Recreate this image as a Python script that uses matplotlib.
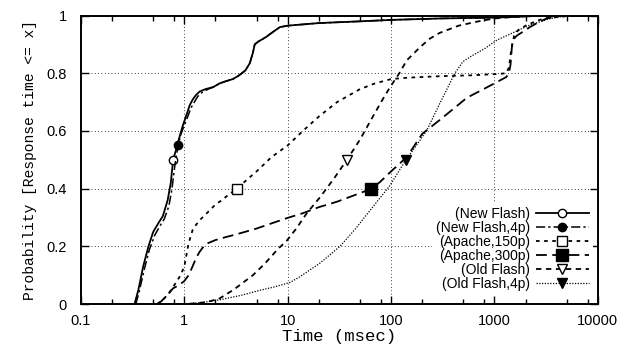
import matplotlib
matplotlib.use("Agg")
import matplotlib.pyplot as plt
import numpy as np

# series (x in msec, y = cumulative probability)
nf_x = [0.33, 0.36, 0.4, 0.45, 0.5, 0.56, 0.62, 0.69, 0.74, 0.78, 0.84, 0.9, 0.97, 1.06, 1.13,
        1.21, 1.3, 1.41, 1.6, 1.9, 2.2, 2.5, 2.95, 3.3, 3.6, 3.9, 4.3, 4.6, 4.8, 5.2, 6.2, 7.0,
        8.4, 10, 20, 50, 100, 300, 1000, 2000, 3000, 10000]
nf_y = [0, 0.05, 0.13, 0.2, 0.25, 0.28, 0.305, 0.36, 0.42, 0.5, 0.54, 0.58, 0.62, 0.66, 0.69,
        0.71, 0.725, 0.737, 0.745, 0.752, 0.765, 0.772, 0.78, 0.79, 0.80, 0.81, 0.835, 0.87,
        0.9, 0.91, 0.926, 0.94, 0.96, 0.965, 0.974, 0.98, 0.985, 0.99, 0.993, 0.997, 1.0, 1.0]

nf4_x = [0.34, 0.37, 0.41, 0.46, 0.52, 0.58, 0.64, 0.71, 0.76, 0.81, 0.87, 0.93, 1.0, 1.08,
         1.16, 1.25, 1.35, 1.5, 1.7, 1.9, 2.2, 2.5, 2.95, 3.3, 3.6, 3.9, 4.3, 4.6, 4.8, 5.2,
         6.2, 7.0, 8.4, 10, 20, 50, 100, 300, 1000, 2000, 3000, 10000]
nf4_y = [0, 0.05, 0.12, 0.19, 0.24, 0.27, 0.295, 0.34, 0.4, 0.48, 0.55, 0.59, 0.62, 0.65,
         0.68, 0.70, 0.72, 0.735, 0.745, 0.752, 0.765, 0.772, 0.78, 0.79, 0.80, 0.81, 0.835,
         0.87, 0.9, 0.91, 0.926, 0.94, 0.96, 0.965, 0.974, 0.98, 0.985, 0.99, 0.993, 0.997,
         1.0, 1.0]

a150_x = [0.55, 0.62, 0.7, 0.78, 0.85, 0.92, 1.0, 1.1, 1.21, 1.4, 1.6, 1.77, 2.0, 2.3, 2.7,
          3.23, 4, 5, 7, 10, 14, 20, 30, 50, 70, 100, 150, 300, 600, 1000, 1300, 1380, 1450,
          1550, 1700, 2000, 2500, 3000, 4000, 6000, 10000]
a150_y = [0, 0.015, 0.035, 0.06, 0.08, 0.1, 0.13, 0.21, 0.26, 0.29, 0.31, 0.326, 0.345, 0.36,
          0.38, 0.40, 0.43, 0.46, 0.51, 0.55, 0.60, 0.65, 0.70, 0.745, 0.765, 0.78, 0.785,
          0.79, 0.793, 0.797, 0.80, 0.82, 0.88, 0.93, 0.95, 0.965, 0.98, 0.99, 0.995, 1.0, 1.0]

a300_x = [0.54, 0.6, 0.7, 0.78, 0.85, 0.92, 1.0, 1.1, 1.2, 1.3, 1.4, 1.5, 1.66, 2.0, 2.5, 3.2,
          5, 7, 9.8, 14, 20, 30, 53, 64, 78, 100, 142, 200, 300, 540, 1000, 1300, 1380, 1430,
          1480, 1550, 1640, 1900, 2200, 2700, 3200, 4600, 10000]
a300_y = [0, 0.01, 0.035, 0.055, 0.062, 0.07, 0.08, 0.1, 0.13, 0.16, 0.18, 0.195, 0.21, 0.222,
          0.232, 0.242, 0.262, 0.28, 0.298, 0.315, 0.336, 0.355, 0.388, 0.40, 0.423, 0.46,
          0.51, 0.59, 0.64, 0.715, 0.765, 0.787, 0.80, 0.83, 0.9, 0.92, 0.93, 0.945, 0.96,
          0.978, 0.99, 1.0, 1.0]

of_x = [0.9, 1.2, 1.66, 2.2, 3, 4.6, 6, 8, 9.8, 12, 15.3, 20.5, 28, 37.4, 50, 62, 80, 97, 120,
        142, 190, 237, 295, 450, 700, 1000, 1500, 2500, 10000]
of_y = [0, 0.002, 0.007, 0.02, 0.05, 0.1, 0.14, 0.19, 0.22, 0.26, 0.315, 0.37, 0.435, 0.5,
        0.57, 0.63, 0.7, 0.75, 0.8, 0.845, 0.89, 0.92, 0.94, 0.965, 0.98, 0.99, 0.995, 1.0, 1.0]

of4_x = [1.0, 1.5, 2.2, 3.5, 5.4, 7.5, 10.5, 13, 20.5, 32, 45, 58, 75, 97, 139, 180, 222, 300,
         414, 494, 600, 800, 1055, 1500, 2190, 3500, 5000, 10000]
of4_y = [0.0, 0.006, 0.015, 0.03, 0.048, 0.06, 0.075, 0.094, 0.142, 0.2, 0.26, 0.31, 0.36,
         0.41, 0.5, 0.555, 0.603, 0.7, 0.8, 0.84, 0.86, 0.885, 0.915, 0.94, 0.967, 0.99, 1.0,
         1.0]

labels = ["(New Flash)", "(New Flash,4p)", "(Apache,150p)", "(Apache,300p)",
          "(Old Flash)", "(Old Flash,4p)"]
# where the single point symbol of each curve sits (x value)
mark_x = [0.78, 0.87, 3.23, 64, 37.4, 139]

series = [(nf_x, nf_y), (nf4_x, nf4_y), (a150_x, a150_y), (a300_x, a300_y),
          (of_x, of_y), (of4_x, of4_y)]
styles = [
    dict(ls="-", lw=1.3, marker="o", mfc="white", ms=6),
    dict(ls=(0, (6, 2, 1.5, 2)), lw=1.1, marker="o", mfc="black", ms=6),
    dict(ls=(0, (2, 2.5)), lw=1.3, marker="s", mfc="white", ms=7),
    dict(ls=(0, (6, 3)), lw=1.3, marker="s", mfc="black", ms=8),
    dict(ls=(0, (3, 2.5)), lw=1.3, marker="v", mfc="white", ms=7),
    dict(ls=(0, (1, 1.2)), lw=0.9, marker="v", mfc="black", ms=7),
]

fig = plt.figure(figsize=(6.32, 3.46), dpi=100)
ax = fig.add_axes([0.128, 0.121, 0.818, 0.834])

for (xs, ys), st, lab, mx in zip(series, styles, labels, mark_x):
    xs = np.array(xs)
    idx = int(np.argmin(np.abs(np.log10(xs) - np.log10(mx))))
    ax.plot(xs, ys, color="black", mec="black", mew=1.0, markevery=[idx], label=lab, **st)

ax.set_xscale("log")
ax.set_xlim(0.1, 10000)
ax.set_ylim(0, 1)
ax.set_xticks([0.1, 1, 10, 100, 1000, 10000])
ax.set_xticklabels(["0.1", "1", "10", "100", "1000", "10000"])
ax.xaxis.set_minor_locator(matplotlib.ticker.LogLocator(base=10, subs=[2, 5, 8]))
ax.xaxis.set_minor_formatter(matplotlib.ticker.NullFormatter())
ax.set_yticks([0, 0.2, 0.4, 0.6, 0.8, 1])
ax.set_yticklabels(["0", "0.2", "0.4", "0.6", "0.8", "1"])

ax.grid(True, which="major", color="black", ls=(0, (1, 3)), lw=0.6)
ax.tick_params(which="both", direction="in", top=True, right=True, labelsize=10.5,
               width=1.0)
ax.tick_params(axis="x", pad=7)
ax.tick_params(axis="y", pad=10)
ax.tick_params(which="major", length=6)
ax.tick_params(which="minor", length=3.5)
for t in ax.get_xticklabels() + ax.get_yticklabels():
    t.set_fontfamily("Liberation Sans")
for s in ax.spines.values():
    s.set_linewidth(1.4)

ax.set_xlabel("Time (msec)", family="Liberation Mono", fontsize=12.5, labelpad=1)
ax.set_ylabel("Probability [Response time <= x]", family="Liberation Mono", fontsize=10.5,
              labelpad=7)

leg = ax.legend(loc="lower right", bbox_to_anchor=(0.99, 0.03), markerfirst=False,
                prop={"family": "Liberation Sans", "size": 10}, handlelength=3.8,
                handletextpad=0.4, labelspacing=0.0, borderpad=0.3, borderaxespad=0,
                frameon=True, fancybox=False, framealpha=1, edgecolor="none",
                facecolor="white")

fig.savefig("out.png", dpi=100)
